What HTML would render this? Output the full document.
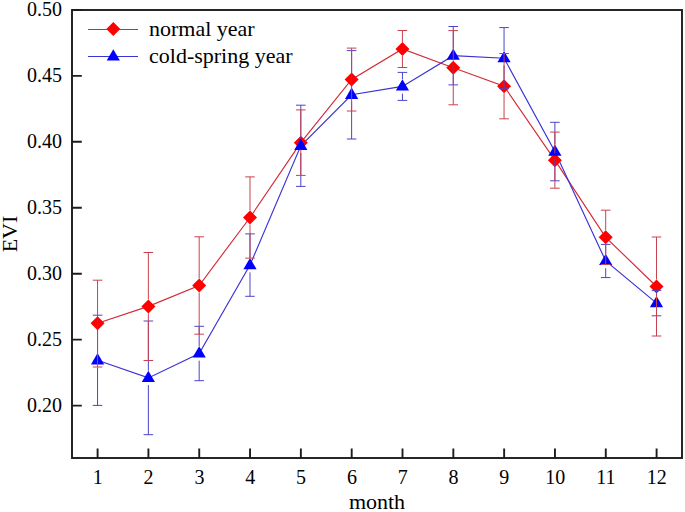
<!DOCTYPE html><html><head><meta charset="utf-8"><style>html,body{margin:0;padding:0;background:#fff;}svg{display:block;}text{font-family:"Liberation Serif",serif;fill:#000;}</style></head><body>
<svg width="685" height="512" viewBox="0 0 685 512">
<rect x="0" y="0" width="685" height="512" fill="#fff"/>
<polyline points="97.55,323.2 148.36,306.4 199.18,285.5 249.99,217.5 300.81,142.7 351.62,79.5 402.43,49 453.25,67.7 504.06,86.2 554.88,160.2 605.69,237.3 656.5,286.5" fill="none" stroke="#d42a36" stroke-width="1.15"/>
<polyline points="97.55,360.3 148.36,377.9 199.18,353.5 249.99,265.1 300.81,145.8 351.62,94.8 402.43,86.4 453.25,55.7 504.06,58.2 554.88,151.6 605.69,261 656.5,303.1" fill="none" stroke="#3a32d6" stroke-width="1.15"/>
<path d="M97.55 316.2L104.55 323.2L97.55 330.2L90.55 323.2Z" fill="#ff0000"/>
<path d="M148.36 299.4L155.36 306.4L148.36 313.4L141.36 306.4Z" fill="#ff0000"/>
<path d="M199.18 278.5L206.18 285.5L199.18 292.5L192.18 285.5Z" fill="#ff0000"/>
<path d="M249.99 210.5L256.99 217.5L249.99 224.5L242.99 217.5Z" fill="#ff0000"/>
<path d="M300.81 135.7L307.81 142.7L300.81 149.7L293.81 142.7Z" fill="#ff0000"/>
<path d="M351.62 72.5L358.62 79.5L351.62 86.5L344.62 79.5Z" fill="#ff0000"/>
<path d="M402.43 42L409.43 49L402.43 56L395.43 49Z" fill="#ff0000"/>
<path d="M453.25 60.7L460.25 67.7L453.25 74.7L446.25 67.7Z" fill="#ff0000"/>
<path d="M504.06 79.2L511.06 86.2L504.06 93.2L497.06 86.2Z" fill="#ff0000"/>
<path d="M554.88 153.2L561.88 160.2L554.88 167.2L547.88 160.2Z" fill="#ff0000"/>
<path d="M605.69 230.3L612.69 237.3L605.69 244.3L598.69 237.3Z" fill="#ff0000"/>
<path d="M656.5 279.5L663.5 286.5L656.5 293.5L649.5 286.5Z" fill="#ff0000"/>
<path d="M97.55 353.1L104.15 364.4L90.95 364.4Z" fill="#0000ff"/>
<path d="M148.36 370.7L154.96 382L141.76 382Z" fill="#0000ff"/>
<path d="M199.18 346.3L205.78 357.6L192.58 357.6Z" fill="#0000ff"/>
<path d="M249.99 257.9L256.59 269.2L243.39 269.2Z" fill="#0000ff"/>
<path d="M300.81 138.6L307.41 149.9L294.21 149.9Z" fill="#0000ff"/>
<path d="M351.62 87.6L358.22 98.9L345.02 98.9Z" fill="#0000ff"/>
<path d="M402.43 79.2L409.03 90.5L395.83 90.5Z" fill="#0000ff"/>
<path d="M453.25 48.5L459.85 59.8L446.65 59.8Z" fill="#0000ff"/>
<path d="M504.06 51L510.66 62.3L497.46 62.3Z" fill="#0000ff"/>
<path d="M554.88 144.4L561.48 155.7L548.28 155.7Z" fill="#0000ff"/>
<path d="M605.69 253.8L612.29 265.1L599.09 265.1Z" fill="#0000ff"/>
<path d="M656.5 295.9L663.1 307.2L649.9 307.2Z" fill="#0000ff"/>
<path d="M97.55 353.1V315.2M97.55 367.5V405.4M92.75 315.2H102.35M92.75 405.4H102.35" stroke="#4c44c8" stroke-width="1" fill="none"/>
<path d="M148.36 370.7V321M148.36 385.1V434.7M143.56 321H153.16M143.56 434.7H153.16" stroke="#4c44c8" stroke-width="1" fill="none"/>
<path d="M199.18 346.3V326.3M199.18 360.7V380.7M194.38 326.3H203.98M194.38 380.7H203.98" stroke="#4c44c8" stroke-width="1" fill="none"/>
<path d="M249.99 257.9V233.9M249.99 272.3V296.3M245.19 233.9H254.79M245.19 296.3H254.79" stroke="#4c44c8" stroke-width="1" fill="none"/>
<path d="M300.81 138.6V105.2M300.81 153V186.4M296.01 105.2H305.61M296.01 186.4H305.61" stroke="#4c44c8" stroke-width="1" fill="none"/>
<path d="M351.62 87.6V50.6M351.62 102V139M346.82 50.6H356.42M346.82 139H356.42" stroke="#4c44c8" stroke-width="1" fill="none"/>
<path d="M402.43 79.2V72.4M402.43 93.6V100.4M397.63 72.4H407.23M397.63 100.4H407.23" stroke="#4c44c8" stroke-width="1" fill="none"/>
<path d="M453.25 48.5V26.5M453.25 62.9V84.9M448.45 26.5H458.05M448.45 84.9H458.05" stroke="#4c44c8" stroke-width="1" fill="none"/>
<path d="M504.06 51V27.6M504.06 65.4V88.7M499.26 27.6H508.86M499.26 88.7H508.86" stroke="#4c44c8" stroke-width="1" fill="none"/>
<path d="M554.88 144.4V122.3M554.88 158.8V180.8M550.08 122.3H559.68M550.08 180.8H559.68" stroke="#4c44c8" stroke-width="1" fill="none"/>
<path d="M605.69 253.8V244.4M605.69 268.2V277.6M600.89 244.4H610.49M600.89 277.6H610.49" stroke="#4c44c8" stroke-width="1" fill="none"/>
<path d="M656.5 295.9V290.4M656.5 310.3V315.8M651.7 290.4H661.3M651.7 315.8H661.3" stroke="#4c44c8" stroke-width="1" fill="none"/>
<path d="M97.55 316.2V280.2M97.55 330.2V367M92.75 280.2H102.35M92.75 367H102.35" stroke="#c8424e" stroke-width="1" fill="none"/>
<path d="M148.36 299.4V252.5M148.36 313.4V360.5M143.56 252.5H153.16M143.56 360.5H153.16" stroke="#c8424e" stroke-width="1" fill="none"/>
<path d="M199.18 278.5V236.8M199.18 292.5V334.2M194.38 236.8H203.98M194.38 334.2H203.98" stroke="#c8424e" stroke-width="1" fill="none"/>
<path d="M249.99 210.5V176.9M249.99 224.5V258.1M245.19 176.9H254.79M245.19 258.1H254.79" stroke="#c8424e" stroke-width="1" fill="none"/>
<path d="M300.81 135.7V109.9M300.81 149.7V175.4M296.01 109.9H305.61M296.01 175.4H305.61" stroke="#c8424e" stroke-width="1" fill="none"/>
<path d="M351.62 72.5V48.1M351.62 86.5V111M346.82 48.1H356.42M346.82 111H356.42" stroke="#c8424e" stroke-width="1" fill="none"/>
<path d="M402.43 42V30.5M402.43 56V67.5M397.63 30.5H407.23M397.63 67.5H407.23" stroke="#c8424e" stroke-width="1" fill="none"/>
<path d="M453.25 60.7V30.6M453.25 74.7V104.8M448.45 30.6H458.05M448.45 104.8H458.05" stroke="#c8424e" stroke-width="1" fill="none"/>
<path d="M504.06 79.2V53.5M504.06 93.2V118.8M499.26 53.5H508.86M499.26 118.8H508.86" stroke="#c8424e" stroke-width="1" fill="none"/>
<path d="M554.88 153.2V132.1M554.88 167.2V188.2M550.08 132.1H559.68M550.08 188.2H559.68" stroke="#c8424e" stroke-width="1" fill="none"/>
<path d="M605.69 230.3V210.2M605.69 244.3V264.5M600.89 210.2H610.49M600.89 264.5H610.49" stroke="#c8424e" stroke-width="1" fill="none"/>
<path d="M656.5 279.5V237M656.5 293.5V336M651.7 237H661.3M651.7 336H661.3" stroke="#c8424e" stroke-width="1" fill="none"/>
<rect x="72" y="10" width="610" height="448" fill="none" stroke="#1c1c1c" stroke-width="1.9"/>
<path d="M97.6 458V448.5M148.42 458V448.5M199.24 458V448.5M250.05 458V448.5M300.87 458V448.5M351.69 458V448.5M402.51 458V448.5M453.33 458V448.5M504.14 458V448.5M554.96 458V448.5M605.78 458V448.5M656.6 458V448.5M72 405.6H81.8M72 339.65H81.8M72 273.7H81.8M72 207.75H81.8M72 141.8H81.8M72 75.85H81.8M72 9.9H81.8" stroke="#1c1c1c" stroke-width="1.9" fill="none"/>
<text x="97.8" y="484" font-size="20" text-anchor="middle">1</text>
<text x="148.62" y="484" font-size="20" text-anchor="middle">2</text>
<text x="199.44" y="484" font-size="20" text-anchor="middle">3</text>
<text x="250.25" y="484" font-size="20" text-anchor="middle">4</text>
<text x="301.07" y="484" font-size="20" text-anchor="middle">5</text>
<text x="351.89" y="484" font-size="20" text-anchor="middle">6</text>
<text x="402.71" y="484" font-size="20" text-anchor="middle">7</text>
<text x="453.53" y="484" font-size="20" text-anchor="middle">8</text>
<text x="504.34" y="484" font-size="20" text-anchor="middle">9</text>
<text x="555.16" y="484" font-size="20" text-anchor="middle">10</text>
<text x="605.98" y="484" font-size="20" text-anchor="middle">11</text>
<text x="656.8" y="484" font-size="20" text-anchor="middle">12</text>
<text x="62" y="411.9" font-size="20" text-anchor="end">0.20</text>
<text x="62" y="345.95" font-size="20" text-anchor="end">0.25</text>
<text x="62" y="280" font-size="20" text-anchor="end">0.30</text>
<text x="62" y="214.05" font-size="20" text-anchor="end">0.35</text>
<text x="62" y="148.1" font-size="20" text-anchor="end">0.40</text>
<text x="62" y="82.15" font-size="20" text-anchor="end">0.45</text>
<text x="62" y="16.2" font-size="20" text-anchor="end">0.50</text>
<text x="377" y="509" font-size="22" text-anchor="middle">month</text>
<text transform="translate(16.5 234) rotate(-90)" font-size="22" text-anchor="middle">EVI</text>
<path d="M88 29.5H138" stroke="#d42a36" stroke-width="1"/>
<path d="M113.3 22L120.3 29L113.3 36L106.3 29Z" fill="#ff0000"/>
<path d="M88 56.5H138" stroke="#3a32d6" stroke-width="1"/>
<path d="M113.3 49.3L119.9 60.6L106.7 60.6Z" fill="#0000ff"/>
<text x="149" y="36" font-size="22">normal year</text>
<text x="149" y="63" font-size="22">cold-spring year</text>
</svg></body></html>
